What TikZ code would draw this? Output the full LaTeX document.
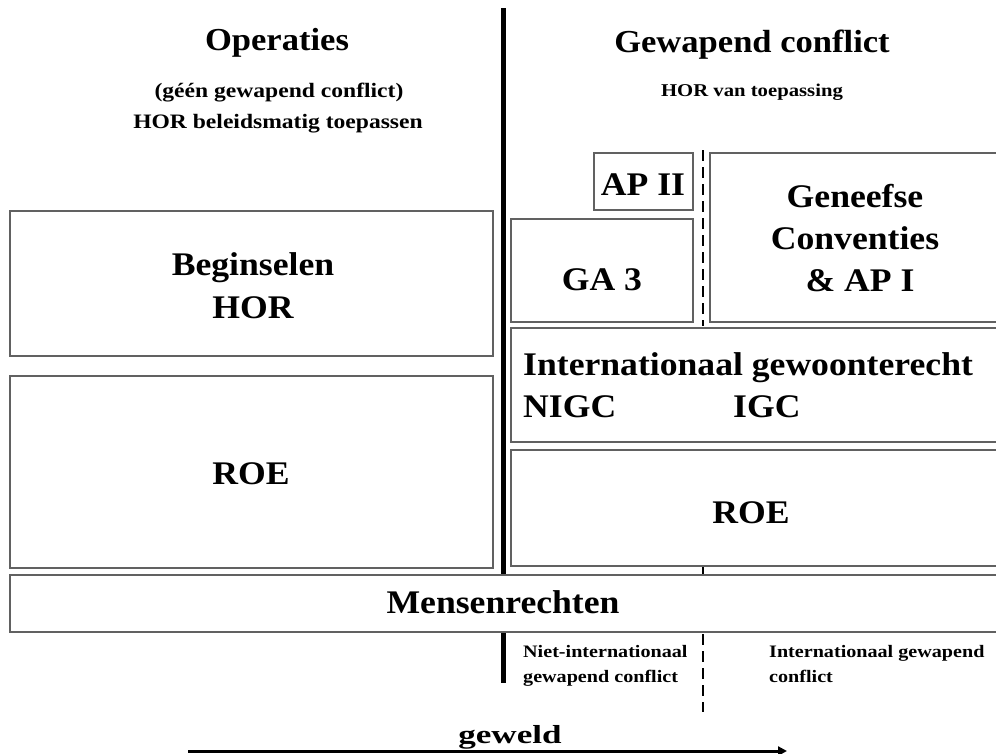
\documentclass[tikz,border=0pt]{standalone}
\usepackage{fontspec}
\setmainfont{Liberation Serif}
\newfontfamily\garA[FakeStretch=1.08]{Liberation Serif}
\newfontfamily\garB[FakeStretch=1.15]{Liberation Serif}
\newfontfamily\garC[FakeStretch=1.35]{Liberation Serif}
\usetikzlibrary{arrows.meta}
\begin{document}
\begin{tikzpicture}[x=1pt,y=-1pt,
  box/.style={draw=black!62,line width=1.3pt,fill=white},
  big/.style={font=\garA\bfseries\fontsize{32}{38}\selectfont,inner sep=0pt,anchor=base},
  lbl/.style={font=\garA\bfseries\fontsize{33}{40}\selectfont,inner sep=0pt,anchor=base},
  subl/.style={font=\garB\bfseries\fontsize{20.5}{25}\selectfont,inner sep=0pt,anchor=base},
  subr/.style={font=\garB\bfseries\fontsize{18}{22}\selectfont,inner sep=0pt,anchor=base},
  note/.style={font=\garB\bfseries\fontsize{17.5}{21}\selectfont,inner sep=0pt,anchor=base west},
  divider/.style={line width=2.6pt,dash pattern=on 11pt off 6pt}]
\useasboundingbox (0,0) rectangle (996,753);
\begin{scope}
\clip (0,0) rectangle (996,753);

% main divider between peace operations and armed conflict
\draw[line width=5pt] (503,8) -- (503,683);

% dashed divider between non-international and international conflict
\draw[divider] (703,150) -- (703,326);
\draw[divider] (703,566) -- (703,712);

% headings
\node[big] (hopl) at (277,50) {Operaties};
\node[subl] (hopla) at (279,97) {(géén gewapend conflict)};
\node[subl] (hoplb) at (278,128) {HOR beleidsmatig toepassen};
\node[big] (hconf) at (752,52) {Gewapend conflict};
\node[subr] (hconfsub) at (752,96) {HOR van toepassing};

% left column
\draw[box] (10,211) rectangle (493,356);
\node[lbl] (bega) at (253,275) {Beginselen};
\node[lbl] (begb) at (253,318) {HOR};
\draw[box] (10,376) rectangle (493,568);
\node[lbl] (roel) at (251,484) {ROE};

% right column
\draw[box] (594,153) rectangle (693,210);
\node[lbl] (ap2) at (643,195) {AP II};
\draw[box] (511,219) rectangle (693,322);
\node[lbl] (ga3) at (602,290) {GA 3};
\draw[box] (710,153) rectangle (1005,322);
\node[lbl] (gca) at (855,207) {Geneefse};
\node[lbl] (gcb) at (855,249) {Conventies};
\node[lbl] (gcc) at (860,291) {\& AP I};
\draw[box] (511,328) rectangle (1005,442);
\node[lbl,anchor=base west] (igr) at (523,375) {Internationaal gewoonterecht};
\node[lbl,anchor=base west] (nigc) at (523,417) {NIGC};
\node[lbl,anchor=base west] (igc) at (733,417) {IGC};
\draw[box] (511,450) rectangle (1005,566);
\node[lbl] (roer) at (751,523) {ROE};

% human rights across the whole width
\draw[box] (10,575) rectangle (1005,632);
\node[lbl] (mr) at (503,613) {Mensenrechten};

% conflict type labels
\node[note] (niaca) at (523,657) {Niet-internationaal};
\node[note] (niacb) at (523,682) {gewapend conflict};
\node[note] (iaca) at (769,657) {Internationaal gewapend};
\node[note] (iacb) at (769,682) {conflict};

% scale of violence
\coordinate (vs) at (188,751);
\coordinate (ve) at (787,751);
\draw[line width=3pt,-{Triangle[length=9pt,width=9pt]}] (vs) -- (ve);
\node[font=\garC\bfseries\fontsize{26}{30}\selectfont,inner sep=0pt,anchor=base] (gew) at (510,743) {geweld};
\end{scope}
\end{tikzpicture}
\end{document}
